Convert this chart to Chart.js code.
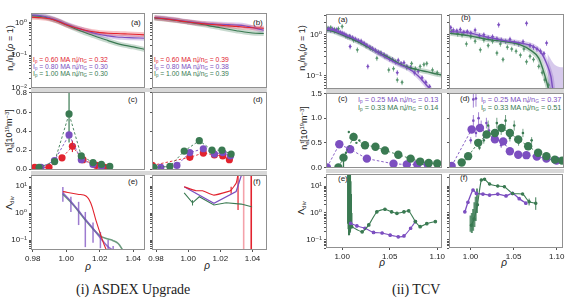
<!DOCTYPE html>
<html>
<head>
<meta charset="utf-8">
<script src="https://cdn.jsdelivr.net/npm/chart.js@4.4.1/dist/chart.umd.min.js"></script>
<style>
body{margin:0;background:#fff}
#fig{position:relative;width:568px;height:298px;overflow:hidden;font-family:"Liberation Sans","DejaVu Sans",sans-serif;color:#222}
#fig canvas{position:absolute;left:0;top:0}
.band{position:absolute;height:4px;background:#d8d8d8}
.t{position:absolute;white-space:nowrap;line-height:10px}
.lab{font-size:8px}
.leg{font-size:6.8px;line-height:8px}
.leg2{font-size:7.3px;line-height:8px}
.yt{font-size:9px;transform:translate(-50%,-50%) rotate(-90deg)}
.xt{font-size:10px;font-style:italic;transform:translate(-50%,-50%)}
.cap{font-family:"Liberation Serif","DejaVu Serif",serif;font-size:14px;line-height:16px}
sub,sup{font-size:65%;line-height:0}
sub{vertical-align:-0.3em}
sup{vertical-align:0.45em}
sup.on{margin-left:-0.37em}
</style>
</head>
<body>
<div id="fig">
  <div class="band" style="left:31px;top:88px;width:236px"></div>
  <div class="band" style="left:31px;top:171px;width:236px"></div>
  <div class="band" style="left:326px;top:89px;width:238px"></div>
  <div class="band" style="left:326px;top:169px;width:238px"></div>

  <div class="t lab" style="left:131px;top:18px">(a)</div>
  <div class="t lab" style="left:253px;top:18px">(b)</div>
  <div class="t lab" style="left:128px;top:95px">(c)</div>
  <div class="t lab" style="left:253px;top:95px">(d)</div>
  <div class="t lab" style="left:128px;top:177px">(e)</div>
  <div class="t lab" style="left:253px;top:177px">(f)</div>
  <div class="t lab" style="left:338px;top:15px">(a)</div>
  <div class="t lab" style="left:461px;top:13px">(b)</div>
  <div class="t lab" style="left:338px;top:94px">(c)</div>
  <div class="t lab" style="left:460px;top:94px">(d)</div>
  <div class="t lab" style="left:338px;top:174px">(e)</div>
  <div class="t lab" style="left:460px;top:173px">(f)</div>

  <div class="t leg" style="left:33px;top:56px;color:#e2232e">I<sub>p</sub> = 0.60 MA n<sub>e</sub><sup class="on">t</sup>/n<sub>G</sub> = 0.32</div>
  <div class="t leg" style="left:33px;top:63px;color:#7c4fc0">I<sub>p</sub> = 0.80 MA n<sub>e</sub><sup class="on">t</sup>/n<sub>G</sub> = 0.30</div>
  <div class="t leg" style="left:33px;top:70px;color:#3a7a52">I<sub>p</sub> = 1.00 MA n<sub>e</sub><sup class="on">t</sup>/n<sub>G</sub> = 0.30</div>
  <div class="t leg" style="left:154px;top:56px;color:#e2232e">I<sub>p</sub> = 0.60 MA n<sub>e</sub><sup class="on">t</sup>/n<sub>G</sub> = 0.39</div>
  <div class="t leg" style="left:154px;top:63px;color:#7c4fc0">I<sub>p</sub> = 0.80 MA n<sub>e</sub><sup class="on">t</sup>/n<sub>G</sub> = 0.38</div>
  <div class="t leg" style="left:154px;top:70px;color:#3a7a52">I<sub>p</sub> = 1.00 MA n<sub>e</sub><sup class="on">t</sup>/n<sub>G</sub> = 0.39</div>
  <div class="t leg2" style="left:358px;top:96px;color:#7c4fc0">I<sub>p</sub> = 0.25 MA n<sub>e</sub><sup class="on">t</sup>/n<sub>G</sub> = 0.13</div>
  <div class="t leg2" style="left:358px;top:104px;color:#3a7a52">I<sub>p</sub> = 0.33 MA n<sub>e</sub><sup class="on">t</sup>/n<sub>G</sub> = 0.14</div>
  <div class="t leg2" style="left:481px;top:96px;color:#7c4fc0">I<sub>p</sub> = 0.25 MA n<sub>e</sub><sup class="on">t</sup>/n<sub>G</sub> = 0.37</div>
  <div class="t leg2" style="left:481px;top:104px;color:#3a7a52">I<sub>p</sub> = 0.33 MA n<sub>e</sub><sup class="on">t</sup>/n<sub>G</sub> = 0.51</div>

  <div class="t yt" style="left:10px;top:48px">n<sub>e</sub>/n<sub>e</sub>(<i>ρ</i> = 1)</div>
  <div class="t yt" style="left:9px;top:131px">n<sub>e</sub><sup class="on">t</sup>[10<sup>19</sup>m<sup>−3</sup>]</div>
  <div class="t yt" style="left:9px;top:203px">Λ<sub>div</sub></div>
  <div class="t yt" style="left:302px;top:48px">n<sub>e</sub>/n<sub>e</sub>(<i>ρ</i> = 1)</div>
  <div class="t yt" style="left:304px;top:128px">n<sub>e</sub><sup class="on">t</sup>[10<sup>19</sup>m<sup>−3</sup>]</div>
  <div class="t yt" style="left:301px;top:208px">Λ<sub>div</sub></div>

  <div class="t xt" style="left:88px;top:267px">ρ</div>
  <div class="t xt" style="left:207px;top:266px">ρ</div>
  <div class="t xt" style="left:382px;top:263px">ρ</div>
  <div class="t xt" style="left:504px;top:263px">ρ</div>

  <div class="t cap" style="left:76px;top:282px">(i) ASDEX Upgrade</div>
  <div class="t cap" style="left:392px;top:282px">(ii) TCV</div>
</div>
<script>
const RED='#e2232e', PUR='#7c4fc0', GRN='#3a7a52';
const FONT='"Liberation Sans","DejaVu Sans",sans-serif';

// tick labels
const auXTicks=[0.98,1.00,1.02,1.04];
const tcvXTicks=[1.00,1.05,1.10];
const auMidTicks=[0,0.2,0.4,0.6,0.8];
const tcvMidTicks=[0,0.5,1.0,1.5];

// ASDEX Upgrade (a),(b): normalised density profiles
const auRho=[0.979,0.985,0.99,0.995,1.00,1.005,1.01,1.015,1.02,1.025,1.03,1.035,1.04,1.047];
const auARed=[1.45,1.4,1.3,1.1,0.85,0.7,0.6,0.53,0.49,0.47,0.46,0.45,0.44,0.42];
const auAPur=[1.72,1.6,1.4,1.15,0.9,0.72,0.6,0.5,0.43,0.39,0.36,0.35,0.34,0.33];
const auAGrn=[1.62,1.52,1.35,1.1,0.85,0.66,0.52,0.42,0.34,0.28,0.23,0.2,0.18,0.15];
const auBRed=[1.39,1.3,1.22,1.12,1.04,0.97,0.91,0.87,0.83,0.79,0.76,0.72,0.69,0.67];
const auBPur=[1.42,1.34,1.25,1.15,1.06,0.99,0.94,0.91,0.88,0.86,0.84,0.8,0.7,0.58];
const auBGrn=[1.36,1.28,1.2,1.1,1.02,0.93,0.85,0.76,0.69,0.62,0.56,0.51,0.48,0.46];

// ASDEX Upgrade (c): n_e^t
const auCGrnRho=[0.9838,0.9931,1.0017,1.009,1.016,1.021,1.026];
const auCGrn=[0.02,0.08,0.58,0.14,0.07,0.05,0.03];
const auCGrnLo=[0.01,0.06,0.28,0.12,0.06,0.04,0.02];
const auCGrnHi=[0.03,0.1,0.9,0.16,0.08,0.06,0.04];
const auCPurRho=[0.985,0.993,1.0017,1.009,1.016,1.021];
const auCPur=[0.02,0.09,0.36,0.10,0.05,0.03];
const auCRedRho=[0.9812,0.9897,0.9975,1.0037,1.010,1.018,1.023];
const auCRed=[0.02,0.02,0.12,0.24,0.10,0.04,0.02];
const auCRedLo=[0.02,0.02,0.11,0.18,0.09,0.04,0.02];
const auCRedHi=[0.02,0.02,0.13,0.30,0.11,0.04,0.02];
// ASDEX Upgrade (d)
const auDGrnRho=[0.9788,0.9886,0.9975,1.0069,1.0148,1.021,1.0267];
const auDGrn=[0.02,0.03,0.19,0.30,0.20,0.20,0.16];
const auDPurRho=[0.983,0.993,1.001,1.0094,1.0163,1.0215,1.0263];
const auDPur=[0.02,0.04,0.175,0.215,0.16,0.175,0.14];
const auDRedRho=[0.9777,1.001,1.0094,1.0163,1.0215,1.0256];
const auDRed=[0.04,0.125,0.17,0.15,0.14,0.10];

// ASDEX Upgrade (e): Lambda_div
const auEPurRho=[0.998,1.0028,1.0074,1.0114,1.016,1.0204,1.025,1.028];
const auEPur=[5.6,2.7,1.21,0.59,0.27,0.12,0.056,0.042];
const auEPurLo=[2.6,1.1,0.36,0.055,0.08,0.05,0.03,0.03];
const auEPurHi=[9.2,4.0,2.6,1.1,0.45,0.2,0.1,0.06];
const auEGrnRho=[0.998,1.0028,1.0074,1.0114,1.016,1.0204,1.025,1.028,1.031,1.0335];
const auEGrn=[5.0,2.5,1.15,0.55,0.26,0.14,0.11,0.095,0.075,0.045];
const auERedRho=[0.998,1.0068,1.0118,1.0147,1.0177,1.021,1.0235,1.026];
const auERed=[6.2,5.0,4.3,2.3,0.55,0.13,0.05,0.03];
// ASDEX Upgrade (f)
const auFRedRho=[0.9975,1.0048,1.009,1.016,1.0246,1.0267,1.0298,1.031,1.0325];
const auFRed=[9.4,6.7,6.7,4.6,6.2,7.1,12.6,30,200];
const auFRedLo=[9.4,6.7,6.7,4.6,6.2,5.2,12.6,1.3,200];
const auFRedHi=[9.4,6.7,6.7,4.6,6.2,9.5,12.6,80,200];
const auFSpikeRho=[1.0345,1.0392];
const auFSpike=[1,1];
const auFPurRho=[0.9975,1.016,1.0298,1.0335,1.036];
const auFPur=[9.4,2.3,6.2,30,100];
const auFGrnRho=[0.9975,1.0027,1.0069,1.016,1.0236,1.033,1.0394];
const auFGrn=[5.6,2.4,4.0,2.0,2.4,2.15,1.7];
const auFGrnLo=[5.6,1.9,4.0,2.0,2.4,2.15,1.5];
const auFGrnHi=[5.6,3.0,4.0,2.0,2.4,2.15,1.9];

// TCV (a): normalised density, fits and measurements
const tcvAFitRho=[0.983,0.99,1.0,1.01,1.02,1.03,1.04,1.05,1.06,1.07,1.08,1.09,1.1,1.105];
const tcvAPurFit=[1.35,1.3,1.05,0.85,0.66,0.48,0.34,0.25,0.19,0.15,0.1,0.055,0.03,0.025];
const tcvAGrnFit=[1.3,1.22,1.0,0.8,0.62,0.46,0.35,0.27,0.2,0.16,0.14,0.125,0.11,0.105];
const tcvAPurRho=[0.984,0.986,0.988,0.990,0.992,0.994,0.996,0.998,1.000,1.002,1.004,1.006,1.008,1.011,1.014,1.017,1.020,1.023,1.026,1.029,1.032,1.035,1.038,1.041,1.044,1.047,1.050,1.053,1.056,1.059,1.062,1.065,1.068,1.072,1.076,1.080,1.084,1.088,1.092,1.0084,1.027,1.058];
const tcvAPur=[1.35,1.42,1.3,1.38,1.25,1.32,1.2,1.15,1.1,1.05,0.98,0.9,0.92,0.85,0.78,0.72,0.7,0.62,0.55,0.5,0.46,0.42,0.38,0.36,0.33,0.3,0.26,0.25,0.22,0.24,0.2,0.21,0.17,0.16,0.12,0.13,0.09,0.07,0.055,0.52,0.17,0.12];
const tcvAGrnRho=[0.985,0.988,0.992,0.996,1.000,1.004,1.008,1.012,1.016,1.020,1.025,1.030,1.0365,1.040,1.045,1.049,1.054,1.058,1.063,1.068,1.073,1.077,1.082,1.086,1.089,1.095,1.1];
const tcvAGrn=[1.45,1.5,1.35,1.4,1.6,0.94,0.9,0.75,0.43,0.65,0.55,0.48,0.27,0.36,0.3,0.14,0.15,0.08,0.07,0.16,0.2,0.15,0.17,0.19,0.2,0.14,0.12];
// TCV (b)
const tcvBPurFitRho=[0.975,0.999,1.018,1.037,1.057,1.072,1.081,1.087,1.092,1.094,1.097];
const tcvBPurFit=[1.2,1.1,0.88,0.73,0.63,0.52,0.36,0.2,0.096,0.05,0.03];
const tcvBGrnFitRho=[0.975,0.999,1.018,1.037,1.057,1.068,1.078,1.083,1.087,1.089,1.092];
const tcvBGrnFit=[1.1,0.94,0.78,0.69,0.57,0.43,0.27,0.14,0.073,0.05,0.03];
const tcvBPurBandRho=[1.088,1.095,1.1,1.107];
const tcvBPurBand=[0.35,0.2,0.17,0.16];
const tcvBPurRho=[0.977,0.98,0.984,0.988,0.992,0.996,1.0,1.005,1.01,1.015,1.02,1.025,1.03,1.032,1.035,1.04,1.045,1.05,1.055,1.06,1.064,1.068,1.072,1.076,1.08,1.084,1.087];
const tcvBPur=[1.5,1.3,1.25,1.35,1.15,1.2,1.1,1.3,0.95,1.0,0.85,0.9,0.8,1.75,0.75,0.7,0.78,0.65,0.6,0.68,1.9,0.55,0.5,0.45,0.4,0.35,0.63];
const tcvBGrnRho=[0.978,0.985,0.99,0.995,1.0,1.005,1.011,1.015,1.02,1.025,1.03,1.034,1.037,1.042,1.047,1.052,1.057,1.061,1.064,1.068,1.072,1.078,1.082,1.085,1.089];
const tcvBGrn=[1.2,1.05,1.0,0.6,0.9,0.7,0.43,0.75,0.55,0.7,0.36,0.6,0.25,0.5,0.45,0.4,0.32,0.45,0.22,0.3,0.25,0.17,0.12,0.08,0.06];

// TCV (c): n_e^t
const tcvCPurRho=[0.984,0.997,1.0084,1.026,1.054,1.068,1.079,1.09];
const tcvCPur=[0.0,0.47,0.37,0.18,0.075,0.06,0.06,0.06];
const tcvCGrnRho=[0.996,1.0014,1.012,1.024,1.035,1.045,1.059,1.072,1.082,1.091,1.10];
const tcvCGrn=[0.0,0.2,0.62,0.45,0.42,0.345,0.26,0.18,0.12,0.09,0.08];
const tcvCGrnLo=[0.0,0.0,0.62,0.45,0.42,0.345,0.26,0.18,0.12,0.09,0.08];
const tcvCGrnHi=[0.0,0.25,0.62,0.45,0.42,0.345,0.26,0.18,0.12,0.09,0.08];
const tcvCGrnDotRho=[1.004,1.007,1.009,1.012,1.015,1.018];
const tcvCGrnDot=[0.3,0.72,0.6,0.68,0.5,0.55];
// TCV (d)
const tcvDPurRho=[0.978,1.001,1.0106,1.0278,1.0373,1.045,1.0546,1.064,1.076,1.087,1.0986];
const tcvDPur=[0.03,0.77,0.8,0.57,0.53,0.33,0.26,0.25,0.22,0.18,0.14];
const tcvDGrnRho=[0.9896,0.997,1.0086,1.0183,1.0278,1.0355,1.045,1.0546,1.066,1.0775,1.087,1.0967,1.105];
const tcvDGrn=[0.1,0.23,0.5,0.67,0.7,0.8,0.7,0.57,0.43,0.3,0.23,0.16,0.14];
const tcvDPurDotRho=[1.0,1.003,1.006,1.009,1.012,1.015,1.018,1.021,1.025,1.03,1.035,1.04,1.003,1.006];
const tcvDPurDot=[0.55,0.95,0.7,1.0,0.85,0.65,0.9,0.75,0.6,0.7,0.45,0.5,1.38,1.4];
const tcvDGrnDotRho=[1.01,1.015,1.02,1.025,1.03,1.035,1.04,1.045,1.05,1.055,1.06,1.065,1.07];
const tcvDGrnDot=[0.4,0.55,0.85,0.6,0.9,0.75,0.95,0.6,0.85,0.5,0.7,0.45,0.55];

// TCV (e): Lambda_div
const tcvEGrnRho=[1.010,1.021,1.028,1.0365,1.045,1.052,1.0576,1.065,1.070,1.077,1.082,1.089,1.098];
const tcvEGrn=[0.31,0.2,0.36,1.1,1.37,1.1,0.97,1.1,1.2,0.48,0.31,0.4,0.48];
const tcvEGrnBandRho=[1.006,1.0065,1.007,1.0075,1.008,1.0085,1.009,1.0095,1.010];
const tcvEGrnBandMid=[3,3,3,3,3,3,2,1,0.5];
const tcvEGrnBandLo=[0.4,0.25,0.15,0.15,0.18,0.2,0.25,0.3,0.3];
const tcvEGrnBandHi=[40,40,40,40,40,30,15,5,1];
const tcvEPurRho=[1.009,1.0155,1.024,1.033,1.042,1.0505,1.059,1.065,1.072,1.077];
const tcvEPur=[0.41,0.33,0.27,0.19,0.18,0.15,0.13,0.14,0.27,0.48];
// TCV (f)
const tcvFPurRho=[0.9934,0.997,1.0029,1.0068,1.0144,1.0221,1.0316,1.0412,1.0488,1.0565,1.0642];
const tcvFPur=[1.1,2.5,7.1,5.3,5.0,4.6,5.0,4.3,5.3,3.4,2.3];
const tcvFGrnRho=[1.001,1.004,1.008,1.0125,1.0163,1.0221,1.0316,1.0393,1.0488,1.0604,1.068,1.0757];
const tcvFGrn=[0.35,0.6,2.0,16.7,17.7,11.9,10,9.4,5.3,5.0,2.6,2.3];
const tcvFGrnLo=[0.35,0.6,2.0,16.7,17.7,11.9,10,9.4,5.3,5.0,1.9,1.3];
const tcvFGrnHi=[0.35,0.6,2.0,16.7,17.7,11.9,10,9.4,5.3,5.0,3.4,3.8];
const tcvFGrnBandRho=[1.0,1.0015,1.003,1.0045,1.006,1.0075];
const tcvFGrnBandMid=[0.4,0.5,0.6,0.9,1.5,3];
const tcvFGrnBandLo=[0.2,0.18,0.22,0.3,0.5,1];
const tcvFGrnBandHi=[0.8,1.0,1.4,2.5,4,8];

const SUP={'-':'⁻','0':'⁰','1':'¹','2':'²','3':'³'};
function pow10(v){
  const l=Math.log10(v), e=Math.round(l);
  if(Math.abs(l-e)>1e-6) return '';
  return '10'+String(e).split('').map(c=>SUP[c]).join('');
}
function logTicks(lo,hi){
  const t=[];
  for(let e=Math.floor(Math.log10(lo));e<=Math.ceil(Math.log10(hi));e++)
    for(let m=1;m<10;m++){const v=m*Math.pow(10,e); if(v>=lo&&v<=hi) t.push(v);}
  return t;
}
function alpha(hex,a){
  const n=parseInt(hex.slice(1),16);
  return `rgba(${n>>16},${(n>>8)&255},${n&255},${a})`;
}
const P=(xs,ys)=>xs.map((x,i)=>({x,y:ys[i]}));
function line(xs,ys,color,w,extra){
  return Object.assign({data:P(xs,ys),showLine:true,borderColor:color,backgroundColor:color,borderWidth:w,pointRadius:0,tension:0.35},extra||{});
}
function band(xs,ys,color){return line(xs,ys,alpha(color,0.28),5);}
function dots(xs,ys,color,r,extra){
  return Object.assign({data:P(xs,ys),showLine:true,borderColor:color,backgroundColor:color,borderWidth:0.9,borderDash:[2.5,2],pointRadius:r,pointBorderWidth:0,tension:0},extra||{});
}
function marks(xs,ys,color,extra){
  return Object.assign({data:P(xs,ys),showLine:false,borderColor:color,backgroundColor:color,pointStyle:'rectRot',pointRadius:1.7,pointBorderWidth:0,errRel:0.15,errWidth:0.7},extra||{});
}

// error bars + panel frame
const deco={
  id:'deco',
  beforeDatasetsDraw(chart){
    const {ctx,chartArea:a,scales:{x,y}}=chart;
    ctx.save();
    ctx.beginPath();ctx.rect(a.left,a.top,a.right-a.left,a.bottom-a.top);ctx.clip();
    chart.data.datasets.forEach(ds=>{
      if(!ds.errLo&&!ds.errRel) return;
      ctx.strokeStyle=ds.errColor||ds.borderColor;
      ctx.lineWidth=ds.errWidth||1;
      ds.data.forEach((p,i)=>{
        let lo,hi;
        if(ds.errLo){lo=ds.errLo[i];hi=ds.errHi[i];}
        else{lo=p.y*(1-ds.errRel);hi=p.y*(1+ds.errRel);}
        if(hi<=lo) return;
        if(y.type==='logarithmic') lo=Math.max(lo,y.min*0.5);
        const px=x.getPixelForValue(p.x);
        ctx.beginPath();
        ctx.moveTo(px,y.getPixelForValue(lo));
        ctx.lineTo(px,y.getPixelForValue(hi));
        ctx.stroke();
      });
    });
    ctx.restore();
  },
  afterDraw(chart){
    const {ctx,chartArea:a}=chart;
    ctx.save();
    ctx.strokeStyle='#909090';ctx.lineWidth=1;
    ctx.strokeRect(Math.round(a.left)+0.5,Math.round(a.top)+0.5,Math.round(a.right-a.left)-1,Math.round(a.bottom-a.top)-1);
    ctx.restore();
  }
};

function panel(frame,o){
  const [x0,y0,x1,y1]=frame;
  const cv=document.createElement('canvas');
  cv.width=568;cv.height=298;
  document.getElementById('fig').appendChild(cv);
  const yW=o.yLabels?30:0, xH=o.xLabels?14:0;
  const fit=(w,h)=>s=>{
    if(w!==null) s.width=w;
    if(h!==null) s.height=h;
    s.paddingLeft=0;s.paddingRight=0;s.paddingTop=0;s.paddingBottom=0;
  };
  return new Chart(cv,{
    type:'scatter',
    data:{datasets:o.datasets},
    options:{
      responsive:false,animation:false,events:[],
      layout:{padding:{left:x0-yW,top:y0,right:568-x1,bottom:298-y1-xH}},
      plugins:{legend:{display:false},tooltip:{enabled:false}},
      scales:{
        x:{type:'linear',min:o.xr[0],max:o.xr[1],display:!!o.xLabels,
           afterFit:fit(null,xH),
           afterBuildTicks:s=>{s.ticks=o.xt.map(v=>({value:v}));},
           grid:{drawOnChartArea:false,tickLength:2,color:'#555'},border:{display:false},
           ticks:{font:{family:FONT,size:8},color:'#222',padding:2,maxRotation:0,autoSkip:false,callback:v=>v.toFixed(2)}},
        y:{type:o.log?'logarithmic':'linear',min:o.yr[0],max:o.yr[1],
           afterFit:fit(yW,null),
           afterBuildTicks:s=>{s.ticks=o.yt.map(v=>({value:v}));},
           grid:{drawOnChartArea:false,tickLength:2,color:'#555'},border:{display:false},
           ticks:{display:!!o.yLabels,font:{family:FONT,size:8},color:'#222',padding:2,autoSkip:false,
                  callback:v=>o.log?pow10(v):v.toFixed(1)}}
      }
    },
    plugins:[deco]
  });
}

const auTopY=[0.01,1.95], auMidY=[-0.008,0.81], auBotY=[0.043,25.6];
const tcvTopY=[0.048,3.2], tcvMidY=[-0.01,1.51], tcvBotY=[0.05,27.9];
const auL=[0.979,1.047], auR=[0.9775,1.049], tcvL=[0.983,1.105], tcvR=[0.975,1.107];

// ---- ASDEX Upgrade ----
panel([31,13,145,88],{xr:auL,xt:auXTicks,yr:auTopY,yt:logTicks(0.01,1.95),log:true,yLabels:true,datasets:[
  line(auRho,auARed,RED,1.1),line(auRho,auAPur,PUR,1.1),line(auRho,auAGrn,GRN,1.1),
  band(auRho,auARed,RED),band(auRho,auAPur,PUR),band(auRho,auAGrn,GRN)]});
panel([152,13,267,88],{xr:auR,xt:auXTicks,yr:auTopY,yt:logTicks(0.01,1.95),log:true,datasets:[
  line(auRho,auBRed,RED,1.1),line(auRho,auBPur,PUR,1.1),line(auRho,auBGrn,GRN,1.1),
  band(auRho,auBRed,RED),band(auRho,auBPur,PUR),band(auRho,auBGrn,GRN)]});
panel([31,92,145,170],{xr:auL,xt:auXTicks,yr:auMidY,yt:auMidTicks,yLabels:true,datasets:[
  dots(auCGrnRho,auCGrn,GRN,3.6,{errLo:auCGrnLo,errHi:auCGrnHi,errWidth:1.2}),
  dots(auCPurRho,auCPur,PUR,3.6),
  dots(auCRedRho,auCRed,RED,3.6,{errLo:auCRedLo,errHi:auCRedHi,errWidth:1.2})]});
panel([152,92,267,170],{xr:auR,xt:auXTicks,yr:auMidY,yt:auMidTicks,datasets:[
  dots(auDGrnRho,auDGrn,GRN,3.6),dots(auDPurRho,auDPur,PUR,3.6),dots(auDRedRho,auDRed,RED,3.6)]});
panel([31,175,145,250],{xr:auL,xt:auXTicks,yr:auBotY,yt:logTicks(0.043,25.6),log:true,yLabels:true,xLabels:true,datasets:[
  line(auERedRho,auERed,RED,1.1),
  line(auEPurRho,auEPur,alpha(PUR,0.8),1.6,{errLo:auEPurLo,errHi:auEPurHi,errWidth:1.5,errColor:alpha(PUR,0.75)}),
  line(auEGrnRho,auEGrn,alpha(GRN,0.75),1.6)]});
panel([152,175,267,250],{xr:auR,xt:auXTicks,yr:auBotY,yt:logTicks(0.043,25.6),log:true,xLabels:true,datasets:[
  line(auFRedRho,auFRed,RED,1.1,{tension:0.1,errLo:auFRedLo,errHi:auFRedHi,errWidth:1.2}),
  line(auFPurRho,auFPur,PUR,1.3,{tension:0}),
  line(auFGrnRho,auFGrn,GRN,1.1,{tension:0,errLo:auFGrnLo,errHi:auFGrnHi}),
  {data:P([auFSpikeRho[0]],[auFSpike[0]]),showLine:false,pointRadius:0,borderColor:'#f4a2aa',errLo:[0.01],errHi:[100],errWidth:1.6},
  {data:P([auFSpikeRho[1]],[auFSpike[1]]),showLine:false,pointRadius:0,borderColor:RED,errLo:[0.01],errHi:[100],errWidth:1.6}]});

// ---- TCV ----
panel([326,14,442,89],{xr:tcvL,xt:tcvXTicks,yr:tcvTopY,yt:logTicks(0.048,3.2),log:true,yLabels:true,datasets:[
  line(tcvAFitRho,tcvAPurFit,PUR,1.4),line(tcvAFitRho,tcvAGrnFit,GRN,1.4),
  marks(tcvAPurRho,tcvAPur,PUR),marks(tcvAGrnRho,tcvAGrn,alpha('#4f8f66',0.9)),
  band(tcvAFitRho,tcvAPurFit,PUR),band(tcvAFitRho,tcvAGrnFit,GRN)]});
panel([449,14,564,89],{xr:tcvR,xt:tcvXTicks,yr:tcvTopY,yt:logTicks(0.048,3.2),log:true,datasets:[
  line(tcvBPurFitRho,tcvBPurFit,PUR,1.4,{cubicInterpolationMode:'monotone'}),
  line(tcvBGrnFitRho,tcvBGrnFit,GRN,1.4,{cubicInterpolationMode:'monotone'}),
  marks(tcvBPurRho,tcvBPur,PUR),marks(tcvBGrnRho,tcvBGrn,alpha('#4f8f66',0.9)),
  band(tcvBPurFitRho,tcvBPurFit,PUR),band(tcvBGrnFitRho,tcvBGrnFit,GRN),
  {data:P(tcvBPurBandRho,tcvBPurBand),showLine:true,fill:'start',backgroundColor:alpha(PUR,0.3),borderWidth:0,pointRadius:0,tension:0.3}]});
panel([326,93,442,168],{xr:tcvL,xt:tcvXTicks,yr:tcvMidY,yt:tcvMidTicks,yLabels:true,datasets:[
  dots(tcvCGrnRho,tcvCGrn,GRN,4.2,{errLo:tcvCGrnLo,errHi:tcvCGrnHi,errWidth:1.3}),
  dots(tcvCPurRho,tcvCPur,PUR,4.2),
  marks(tcvCGrnDotRho,tcvCGrnDot,GRN,{pointStyle:'circle',pointRadius:1.2,errRel:0})]});
panel([449,93,564,168],{xr:tcvR,xt:tcvXTicks,yr:tcvMidY,yt:tcvMidTicks,datasets:[
  dots(tcvDGrnRho,tcvDGrn,GRN,4.2),
  dots(tcvDPurRho,tcvDPur,PUR,4.2),
  marks(tcvDPurDotRho,tcvDPurDot,PUR,{pointStyle:'circle',pointRadius:1.3,errRel:0.12}),
  marks(tcvDGrnDotRho,tcvDGrnDot,GRN,{pointStyle:'circle',pointRadius:1.3,errRel:0.12})]});
panel([326,174,442,248],{xr:tcvL,xt:tcvXTicks,yr:tcvBotY,yt:logTicks(0.05,27.9),log:true,yLabels:true,xLabels:true,datasets:[
  line(tcvEGrnRho,tcvEGrn,GRN,1.1,{tension:0.2,pointRadius:1.3}),
  line(tcvEPurRho,tcvEPur,PUR,1.1,{tension:0.2,pointRadius:1.3}),
  {data:P(tcvEGrnBandRho,tcvEGrnBandMid),showLine:false,pointRadius:0,borderColor:GRN,errLo:tcvEGrnBandLo,errHi:tcvEGrnBandHi,errWidth:1.6}]});
panel([449,174,564,248],{xr:tcvR,xt:tcvXTicks,yr:tcvBotY,yt:logTicks(0.05,27.9),log:true,xLabels:true,datasets:[
  line(tcvFGrnRho,tcvFGrn,GRN,1.1,{tension:0.2,pointRadius:1.2,errLo:tcvFGrnLo,errHi:tcvFGrnHi}),
  line(tcvFPurRho,tcvFPur,PUR,1.3,{tension:0.2,pointRadius:1.2}),
  {data:P(tcvFGrnBandRho,tcvFGrnBandMid),showLine:false,pointRadius:0,borderColor:alpha(GRN,0.8),errLo:tcvFGrnBandLo,errHi:tcvFGrnBandHi,errWidth:2}]});
</script>
</body>
</html>
